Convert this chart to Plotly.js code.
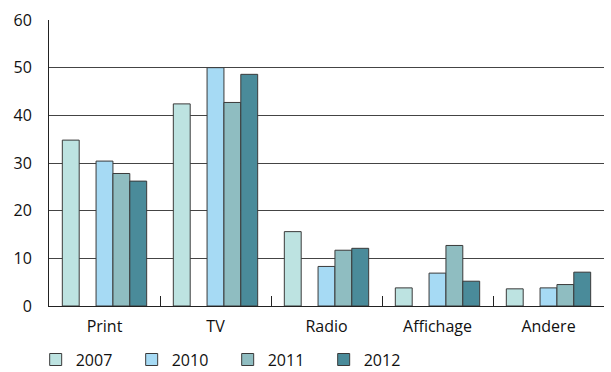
<!DOCTYPE html>
<html><head><meta charset="utf-8">
<script src="https://cdn.plot.ly/plotly-3.0.1.min.js"></script>
<style>html,body{margin:0;padding:0;background:#fff}</style>
</head><body><div id="chart" style="width:611px;height:372px"></div>
<script>
const categories = ["Print", "TV", "Radio", "Affichage", "Andere"];
const years = ["2007", "2010", "2011", "2012"];
const v2007 = [34.8, 42.4, 15.6, 3.8, 3.6];
const v2010 = [30.4, 50.0, 8.3, 6.9, 3.8];
const v2011 = [27.8, 42.7, 11.7, 12.7, 4.5];
const v2012 = [26.2, 48.6, 12.1, 5.2, 7.1];
const colors = ["#bde3e1", "#a6daf4", "#8fbdc1", "#4a8b9a"];

const line = {color: "#3a3a3a", width: 1};
function bar(name, vals, color) {
  return {type: "bar", name: name, x: categories, y: vals,
    marker: {color: color, line: line}, hoverinfo: "skip"};
}
const traces = [
  bar(years[0], v2007, colors[0]),
  {type: "bar", name: "", x: categories, y: categories.map(() => null), showlegend: false, hoverinfo: "skip"},
  bar(years[1], v2010, colors[1]),
  bar(years[2], v2011, colors[2]),
  bar(years[3], v2012, colors[3])
];
const layout = {
  width: 611, height: 372,
  margin: {l: 49, r: 7, t: 20, b: 66, autoexpand: false},
  paper_bgcolor: "#fff", plot_bgcolor: "#fff",
  font: {family: "Open Sans, sans-serif", size: 16, color: "#111"},
  barmode: "group", bargap: 0.24, bargroupgap: 0,
  showlegend: true,
  legend: {orientation: "h", x: -0.024, xanchor: "left", y: -0.128, yanchor: "top",
    entrywidth: 51, entrywidthmode: "pixels", traceorder: "normal",
    font: {size: 16, color: "#111"}},
  xaxis: {type: "category", showgrid: false, showline: true, linecolor: "#222", linewidth: 1,
    ticks: "inside", tickson: "boundaries", ticklen: 10, tickcolor: "#222", tickwidth: 1,
    ticklabelstandoff: 6, zeroline: false},
  yaxis: {range: [0, 60], dtick: 10, showgrid: true, gridcolor: "#444", gridwidth: 1,
    showline: true, linecolor: "#222", linewidth: 1, ticks: "", zeroline: false,
    ticklabelstandoff: 13, fixedrange: true}
};
Plotly.newPlot("chart", traces, layout, {displayModeBar: false, staticPlot: true});
</script></body></html>
